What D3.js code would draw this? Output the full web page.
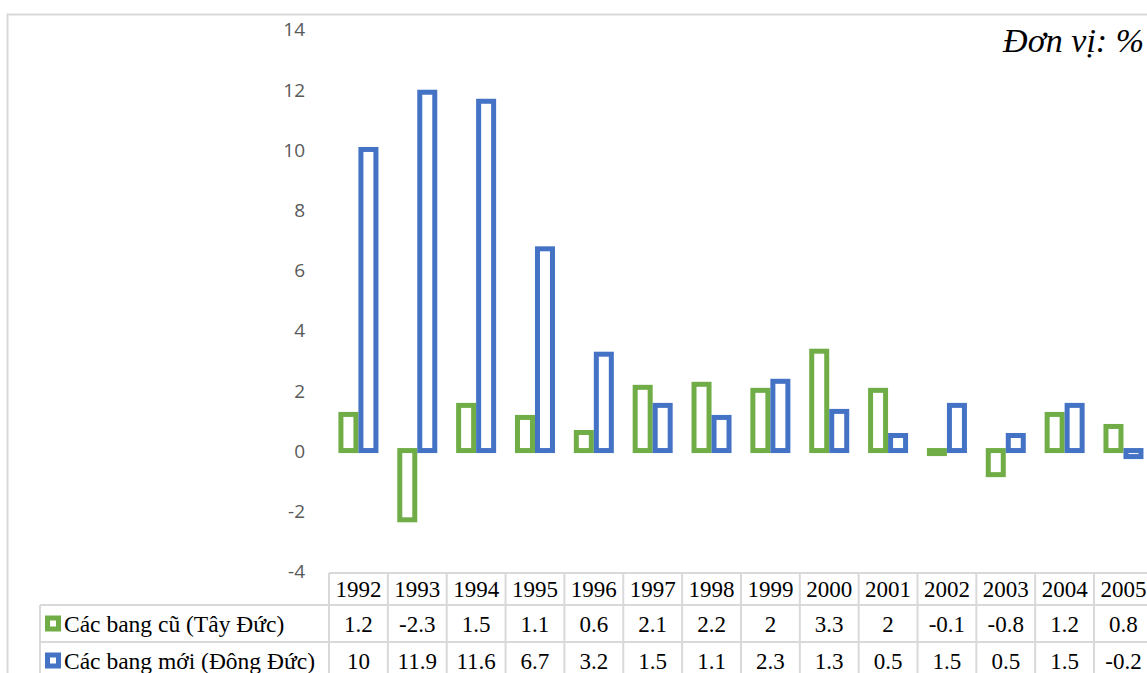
<!DOCTYPE html>
<html>
<head>
<meta charset="utf-8">
<script src="https://cdn.jsdelivr.net/npm/d3@7"></script>
<style>
  html, body { margin: 0; padding: 0; background: #fff; }
  svg { display: block; }
</style>
</head>
<body>
<svg id="chart" width="1147" height="673"></svg>
<script>
// Tốc độ tăng trưởng GDP của Đức theo vùng, 1992–2005
const years = ["1992","1993","1994","1995","1996","1997","1998","1999","2000","2001","2002","2003","2004","2005"];
const seriesNames = ["Các bang cũ (Tây Đức)", "Các bang mới (Đông Đức)"];
const westValues = [1.2, -2.3, 1.5, 1.1, 0.6, 2.1, 2.2, 2, 3.3, 2, -0.1, -0.8, 1.2, 0.8];
const eastValues = [10, 11.9, 11.6, 6.7, 3.2, 1.5, 1.1, 2.3, 1.3, 0.5, 1.5, 0.5, 1.5, -0.2];
const yTicks = [-4, -2, 0, 2, 4, 6, 8, 10, 12, 14];
const unitLabel = "Đơn vị: %";

const colors = ["#70AD47", "#4472C4"];
const seriesValues = [westValues, eastValues];

const svg = d3.select("#chart");
const borderColor = "#d9d9d9";
const serif = "'Liberation Serif', 'Times New Roman', serif";

// chart frame
svg.append("path")
  .attr("d", "M7.5,680 V14.5 H1150")
  .attr("fill", "none")
  .attr("stroke", borderColor)
  .attr("stroke-width", 2);

const colW = 58.85;
const x0 = 329;
const x = d3.scaleBand().domain(years).range([x0, x0 + colW * years.length]).paddingInner(0).paddingOuter(0);
const y = d3.scaleLinear().domain([-4, 14]).range([571, 29]);

// y axis labels (plain hyphen for negatives)
const yAxis = d3.axisLeft(y).tickValues(yTicks).tickSize(0).tickPadding(0).tickFormat(d => String(d));
const gy = svg.append("g").attr("transform", "translate(305,0)").call(yAxis);
gy.select(".domain").remove();
gy.selectAll("text")
  .attr("fill", "#595959")
  .attr("font-family", "'Open Sans', 'Noto Sans', sans-serif")
  .attr("font-size", 19)
  .attr("dy", "0.36em");

// bars
const groupW = 40;
const inner = d3.scaleBand().domain([0, 1]).range([0, groupW]);
const sw = 5;
const barsG = svg.append("g");
seriesValues.forEach((vals, si) => {
  barsG.selectAll(null)
    .data(vals.map((v, i) => ({ year: years[i], v })))
    .join("rect")
    .attr("x", d => x(d.year) + (x.bandwidth() - groupW) / 2 + inner(si) + sw / 2)
    .attr("width", inner.bandwidth() - sw)
    .attr("y", d => Math.min(y(d.v), y(0)))
    .attr("height", d => Math.abs(y(d.v) - y(0)))
    .attr("fill", "none")
    .attr("stroke", colors[si])
    .attr("stroke-width", sw);
});

// unit label
svg.append("text")
  .attr("x", 1144)
  .attr("y", 52)
  .attr("text-anchor", "end")
  .attr("font-family", serif)
  .attr("font-style", "italic")
  .attr("font-size", 34)
  .attr("fill", "#000")
  .text(unitLabel);

// data table
const rowTop = 573, rowYears = 605, rowA = 642, rowB = 679;
const xEnd = x0 + colW * years.length;
const tbl = svg.append("g").attr("stroke", borderColor).attr("stroke-width", 2);
tbl.append("line").attr("x1", x0).attr("x2", xEnd).attr("y1", rowTop).attr("y2", rowTop);
[rowYears, rowA, rowB].forEach(yy => {
  tbl.append("line").attr("x1", 40).attr("x2", xEnd).attr("y1", yy).attr("y2", yy);
});
tbl.append("line").attr("x1", 40).attr("x2", 40).attr("y1", rowYears).attr("y2", 690);
years.forEach(yr => {
  tbl.append("line").attr("x1", x(yr)).attr("x2", x(yr)).attr("y1", rowTop).attr("y2", 690);
});

const txt = svg.append("g").attr("font-family", serif).attr("font-size", 23).attr("fill", "#000").attr("text-anchor", "middle");
txt.selectAll(null).data(years).join("text")
  .attr("x", d => x(d) + x.bandwidth() / 2)
  .attr("y", 597)
  .text(d => d);
const rowBaselines = [632, 669];
seriesValues.forEach((vals, si) => {
  txt.selectAll(null).data(vals).join("text")
    .attr("x", (d, i) => x(years[i]) + x.bandwidth() / 2)
    .attr("y", rowBaselines[si])
    .text(d => String(d));
});

// legend keys and row labels
seriesNames.forEach((name, si) => {
  const cy = [623.5, 660.5][si];
  svg.append("rect")
    .attr("x", 47.5).attr("y", cy - 5.5)
    .attr("width", 11).attr("height", 11)
    .attr("fill", "#fff")
    .attr("stroke", colors[si])
    .attr("stroke-width", 5);
  svg.append("text")
    .attr("x", 64)
    .attr("y", rowBaselines[si])
    .attr("font-family", serif)
    .attr("font-size", 23.5)
    .attr("fill", "#000")
    .text(name);
});
</script>
</body>
</html>
